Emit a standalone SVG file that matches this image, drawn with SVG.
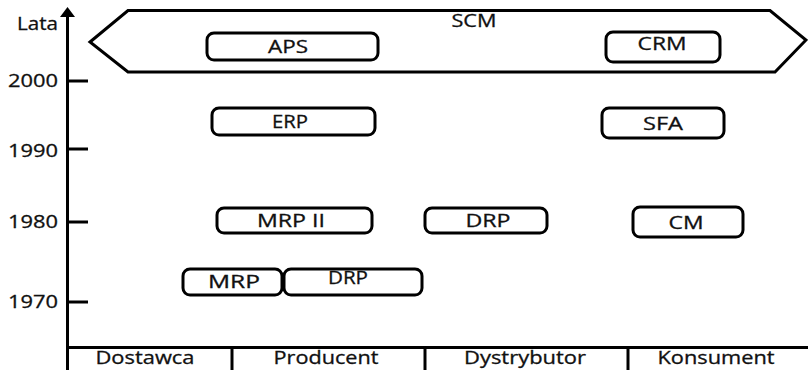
<svg xmlns="http://www.w3.org/2000/svg" width="808" height="370" viewBox="0 0 808 370">
  <style>
    .line { stroke: #000; stroke-width: 3; fill: none; }
    .box { stroke: #000; stroke-width: 3; fill: #fff; }
    text { font-family: "Open Sans", "Liberation Sans", sans-serif; fill: #111; stroke: #111; stroke-width: 0.3; }
    .lbl { font-size: 18px; text-anchor: middle; }
    .yr { font-size: 18px; }
    .col { font-size: 18px; text-anchor: middle; }
  </style>

  <rect width="808" height="370" fill="#fff"/>

  <!-- time axis -->
  <g id="axis">
    <line class="line" x1="67.5" y1="14" x2="67.5" y2="370" stroke-width="3.5"/>
    <polygon points="67.5,7 60,17 75,17" fill="#000"/>
    <text class="yr" x="17" y="30" textLength="41" lengthAdjust="spacingAndGlyphs">Lata</text>
    <line class="line" x1="67" y1="81" x2="88" y2="81"/>
    <text class="yr" x="8" y="87" textLength="50" lengthAdjust="spacingAndGlyphs">2000</text>
    <line class="line" x1="67" y1="149" x2="88" y2="149"/>
    <text class="yr" x="8" y="157" textLength="50" lengthAdjust="spacingAndGlyphs">1990</text>
    <line class="line" x1="67" y1="222" x2="88" y2="222"/>
    <text class="yr" x="8" y="228" textLength="50" lengthAdjust="spacingAndGlyphs">1980</text>
    <line class="line" x1="67" y1="302" x2="88" y2="302"/>
    <text class="yr" x="8" y="308" textLength="50" lengthAdjust="spacingAndGlyphs">1970</text>
  </g>

  <!-- participant columns -->
  <g id="columns">
    <line class="line" x1="67" y1="347.5" x2="808" y2="347.5"/>
    <line class="line" x1="232" y1="347" x2="232" y2="370"/>
    <line class="line" x1="425" y1="347" x2="425" y2="370"/>
    <line class="line" x1="628" y1="347" x2="628" y2="370"/>
    <text class="col" x="145" y="364" textLength="99" lengthAdjust="spacingAndGlyphs">Dostawca</text>
    <text class="col" x="326" y="364" textLength="105" lengthAdjust="spacingAndGlyphs">Producent</text>
    <text class="col" x="525" y="364" textLength="122" lengthAdjust="spacingAndGlyphs">Dystrybutor</text>
    <text class="col" x="716" y="364" textLength="117" lengthAdjust="spacingAndGlyphs">Konsument</text>
  </g>

  <g id="scm">
    <polygon class="line" points="90,42 128,10.5 770,10.5 806,40 775,72 128,72"/>
    <text class="lbl" x="474" y="27" textLength="45" lengthAdjust="spacingAndGlyphs">SCM</text>
  </g>

  <g id="aps">
    <rect class="box" x="207" y="33" width="171" height="27" rx="7"/>
    <text class="lbl" x="288" y="53" textLength="40" lengthAdjust="spacingAndGlyphs">APS</text>
  </g>

  <g id="crm">
    <rect class="box" x="606" y="32" width="114" height="30" rx="7"/>
    <text class="lbl" x="662" y="50" textLength="49" lengthAdjust="spacingAndGlyphs">CRM</text>
  </g>

  <g id="erp">
    <rect class="box" x="212" y="108" width="163" height="27" rx="7"/>
    <text class="lbl" x="290" y="128" textLength="36" lengthAdjust="spacingAndGlyphs">ERP</text>
  </g>

  <g id="sfa">
    <rect class="box" x="602" y="108" width="122" height="30" rx="7"/>
    <text class="lbl" x="663" y="130" textLength="40" lengthAdjust="spacingAndGlyphs">SFA</text>
  </g>

  <g id="mrp2">
    <rect class="box" x="217" y="208" width="155" height="25" rx="7"/>
    <text class="lbl" x="291" y="227" textLength="68" lengthAdjust="spacingAndGlyphs">MRP II</text>
  </g>

  <g id="drp1980">
    <rect class="box" x="425" y="208" width="122" height="25" rx="7"/>
    <text class="lbl" x="488" y="227" textLength="45" lengthAdjust="spacingAndGlyphs">DRP</text>
  </g>

  <g id="cm">
    <rect class="box" x="633" y="207" width="110" height="30" rx="7"/>
    <text class="lbl" x="686" y="229" textLength="35" lengthAdjust="spacingAndGlyphs">CM</text>
  </g>

  <g id="mrp">
    <rect class="box" x="183" y="269" width="99" height="26" rx="7"/>
    <text class="lbl" x="234" y="288" textLength="52" lengthAdjust="spacingAndGlyphs">MRP</text>
  </g>

  <g id="drp1970">
    <rect class="box" x="284" y="269" width="138" height="26" rx="7"/>
    <text class="lbl" x="348" y="284" textLength="40" lengthAdjust="spacingAndGlyphs">DRP</text>
  </g>
</svg>
